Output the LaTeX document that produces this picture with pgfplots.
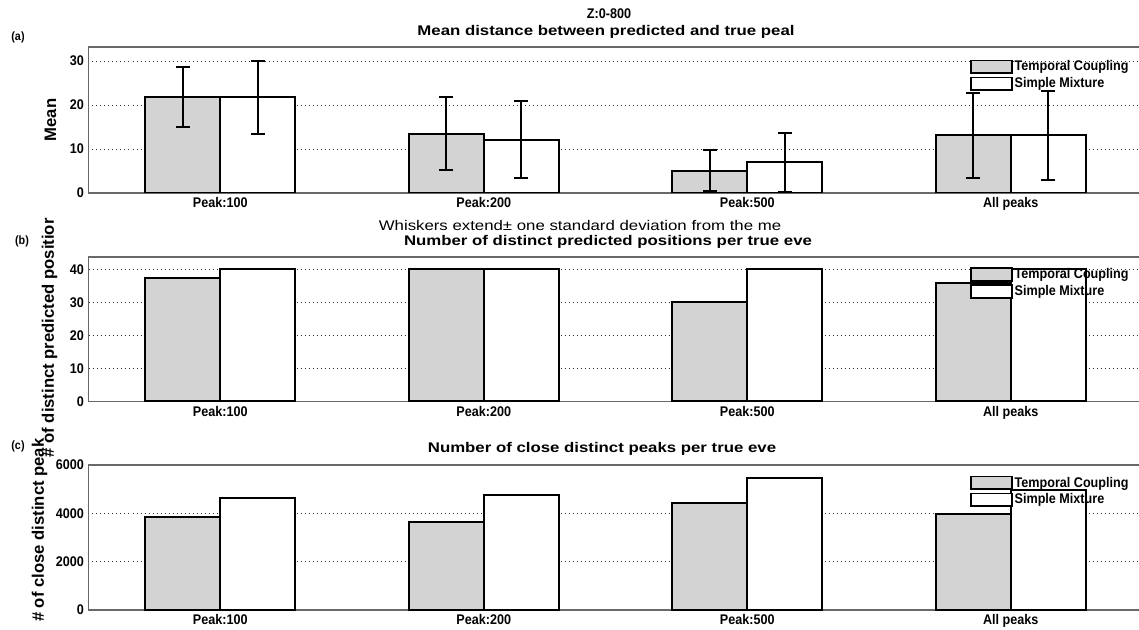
\documentclass[border=0pt]{standalone}
\usepackage{fontspec}
\setmainfont{Liberation Sans}
\newfontfamily\narrowsf{Liberation Sans}[FakeStretch=0.9]
\newfontfamily\widesf{Liberation Sans}[FakeStretch=1.2]
\usepackage{pgfplots}
\pgfplotsset{compat=1.18}

\definecolor{barfill}{RGB}{211,211,211}
\definecolor{spine}{RGB}{105,105,105}

% legend entries are plain outlined boxes
\pgfplotsset{
  legend image code/.code={\draw[line width=1.2pt,#1] (0pt,-4.75pt) rectangle (30.75pt,4.75pt);},
}

\pgfplotsset{
  panel/.style={
    scale only axis,
    width=790.5pt,
    xmin=0.5, xmax=4.5,
    ymin=0,
    xtick={1,2,3,4},
    xticklabels={Peak:100,Peak:200,Peak:500,All peaks},
    major tick length=0pt,
    ymajorgrids,
    major grid style={black!80, line width=0.6pt, dash pattern=on 0.6pt off 2.4pt},
    axis line style={spine, line width=0.9pt},
    tick label style={font=\narrowsf\bfseries\fontsize{10.5}{12}\selectfont},
    /pgf/number format/assume math mode=true,
    /pgf/number format/1000 sep={},
    ylabel style={font=\bfseries\fontsize{12.5}{14}\selectfont, anchor=center},
    legend style={draw=none, fill=none, anchor=north west, inner sep=0pt,
      row sep=1.2pt, font=\narrowsf\bfseries\fontsize{10.5}{11.5}\selectfont,
      nodes={inner sep=1.2pt}},
    legend cell align=left,
  },
  tcbar/.style={ybar, fill=barfill, draw=black, line width=1.5pt, bar width=0.285, bar shift=0pt},
  smbar/.style={ybar, fill=white, draw=black, line width=1.5pt, bar width=0.285, bar shift=0pt},
  whisk/.style={error bars/.cd, y dir=both, y explicit,
    error bar style={line width=1.5pt, black},
    error mark options={rotate=90, mark size=5.25pt, line width=1.5pt, black}},
}

\begin{document}
\begin{tikzpicture}

% (a) mean distance with +/- one standard deviation
\begin{axis}[panel, at={(66.375pt,-144.75pt)}, anchor=south west,
  height=109.5pt, ymax=33.2, ytick={0,10,20,30},
  ylabel={Mean}, ylabel style={at={(axis description cs:-0.036,0.5)}},
  legend style={at={(0.8365,0.918)}}]
\addplot[tcbar, whisk] coordinates {
  (0.8575,21.8) +- (0,6.9)
  (1.8575,13.5) +- (0,8.3)
  (2.8575,5.1)  +- (0,4.7)
  (3.8575,13.1) +- (0,9.6)
};
\addplot[smbar, whisk] coordinates {
  (1.1425,21.75) +- (0,8.25)
  (2.1425,12.1)  +- (0,8.8)
  (3.1425,6.95)  +- (0,6.8)
  (4.1425,13.1)  +- (0,10.1)
};
\legend{Temporal Coupling, Simple Mixture}
\end{axis}

% (b) number of distinct predicted positions
\begin{axis}[panel, at={(66.375pt,-301.125pt)}, anchor=south west,
  height=108.375pt, ymax=43.7, ytick={0,10,20,30,40},
  ylabel={\# of distinct predicted positior}, ylabel style={at={(axis description cs:-0.037,0.44)}},
  legend style={at={(0.8365,0.933)}}]
\addplot[tcbar] coordinates {(0.8575,37.2) (1.8575,40) (2.8575,30.1) (3.8575,35.9)};
\addplot[smbar] coordinates {(1.1425,40) (2.1425,40) (3.1425,40) (4.1425,40)};
\legend{Temporal Coupling, Simple Mixture}
\end{axis}

% (c) number of close distinct peaks
\begin{axis}[panel, at={(66.375pt,-457.5pt)}, anchor=south west,
  height=108.75pt, ymax=6000, ytick={0,2000,4000,6000},
  ylabel={\# of close distinct peak}, ylabel style={at={(axis description cs:-0.0465,0.55)}},
  legend style={at={(0.8365,0.931)}}]
\addplot[tcbar] coordinates {(0.8575,3850) (1.8575,3630) (2.8575,4430) (3.8575,3970)};
\addplot[smbar] coordinates {(1.1425,4650) (2.1425,4745) (3.1425,5475) (4.1425,4950)};
\legend{Temporal Coupling, Simple Mixture}
\end{axis}

% titles and panel letters
\node[font=\narrowsf\bfseries\fontsize{10.5}{12}\selectfont] at (456.75pt,-10.5pt) {Z:0-800};
\node[font=\widesf\bfseries\fontsize{10.5}{12}\selectfont] at (454.5pt,-24pt) {Mean distance between predicted and true peal};
\node[font=\narrowsf\bfseries\fontsize{9}{10}\selectfont] at (13.5pt,-27.75pt) {(a)};
\node[font=\widesf\fontsize{10.5}{12}\selectfont] at (435pt,-168.75pt) {Whiskers extend± one standard deviation from the me};
\node[font=\widesf\bfseries\fontsize{10.5}{12}\selectfont] at (456pt,-181.1pt) {Number of distinct predicted positions per true eve};
\node[font=\narrowsf\bfseries\fontsize{9}{10}\selectfont] at (16.5pt,-180.75pt) {(b)};
\node[font=\widesf\bfseries\fontsize{10.5}{12}\selectfont] at (451.5pt,-336.75pt) {Number of close distinct peaks per true eve};
\node[font=\narrowsf\bfseries\fontsize{9}{10}\selectfont] at (13.5pt,-334.5pt) {(c)};

\pgfresetboundingbox
\path[use as bounding box] (0pt,0pt) rectangle (854.25pt,-472.5pt);
\end{tikzpicture}
\end{document}
